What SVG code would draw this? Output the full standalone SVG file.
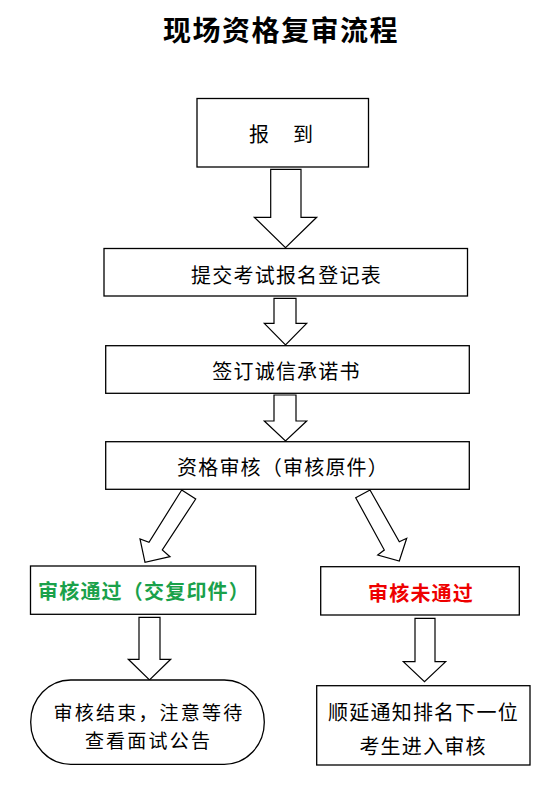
<svg xmlns="http://www.w3.org/2000/svg" width="547" height="785" viewBox="0 0 547 785">
<style>
.box{fill:#fff;stroke:#000;stroke-width:1.3}
.arr{fill:#fff;stroke:#000;stroke-width:1.2;stroke-linejoin:miter}
.t{font-family:"Noto Sans CJK SC","Noto Sans CJK JP",sans-serif;font-size:20px;letter-spacing:1.2px;fill:#000;text-anchor:middle;dominant-baseline:central}
.s{font-size:19px;letter-spacing:2.2px}
.title{font-family:"Noto Sans CJK SC","Noto Sans CJK JP",sans-serif;font-size:28px;font-weight:bold;letter-spacing:1.5px;fill:#000;text-anchor:middle;dominant-baseline:central}
.green{fill:#1aa14a;font-weight:bold}
.red{fill:#ee0000;font-weight:bold}
</style>
<rect width="547" height="785" fill="#fff"/>
<text class="title" x="281" y="29">现场资格复审流程</text>
<g id="connectors">
<polygon class="arr" points="270.7,169.3 301,169.3 301,217.3 316.7,217.3 285.5,247.7 254.3,217.3 270.7,217.3"/>
<polygon class="arr" points="274,298.3 296,298.3 296,323.3 306.7,323.3 285.5,345 264.3,323.3 274,323.3"/>
<polygon class="arr" points="274,395 296,395 296,421 306.7,421 285.5,441 264.3,421 274,421"/>
<polygon class="arr" points="181.7,490 195.7,499 162.3,550 170,556.7 145,562.3 140,539 149,542.3"/>
<polygon class="arr" points="355.7,497.7 370,490 399.3,541.7 406.7,538.3 399.3,561 377.7,555 384.3,550"/>
<polygon class="arr" points="139,617.3 160,617.3 160,659.3 170.7,659.3 149.5,680 128.3,659.3 139,659.3"/>
<polygon class="arr" points="415,618.3 435,618.3 435,661.7 445.7,661.7 424.5,681.7 403.3,661.7 415,661.7"/>
</g>
<g id="n1"><rect class="box" x="197" y="98.5" width="171.5" height="68.5"/>
<text class="t" x="259.5" y="133">报</text><text class="t" x="303.5" y="133">到</text></g>
<g id="n2"><rect class="box" x="104" y="248.5" width="363.5" height="47.5"/>
<text class="t" x="286.5" y="274.5">提交考试报名登记表</text></g>
<g id="n3"><rect class="box" x="105.7" y="345.7" width="363.6" height="47.6"/>
<text class="t" x="286.5" y="370">签订诚信承诺书</text></g>
<g id="n4"><rect class="box" x="105.7" y="441.7" width="363.6" height="47.6"/>
<text class="t" x="283" y="466.5">资格审核（审核原件）</text></g>
<g id="n5"><rect class="box" x="30.5" y="566" width="225.2" height="48.3"/>
<text class="t green" x="144" y="590.5">审核通过（交复印件）</text></g>
<g id="n6"><rect class="box" x="320.7" y="566.7" width="198.6" height="48.3"/>
<text class="t red" x="421" y="592.5">审核未通过</text></g>
<g id="n7"><rect class="box" x="30.7" y="680" width="233.6" height="84.3" rx="40" ry="42"/>
<text class="t s" x="149" y="711">审核结束，注意等待</text>
<text class="t s" x="148.5" y="739.5">查看面试公告</text></g>
<g id="n8"><rect class="box" x="316.7" y="685.7" width="213.3" height="79.3"/>
<text class="t" x="423.5" y="711">顺延通知排名下一位</text>
<text class="t" x="423" y="745.5">考生进入审核</text></g>
</svg>
